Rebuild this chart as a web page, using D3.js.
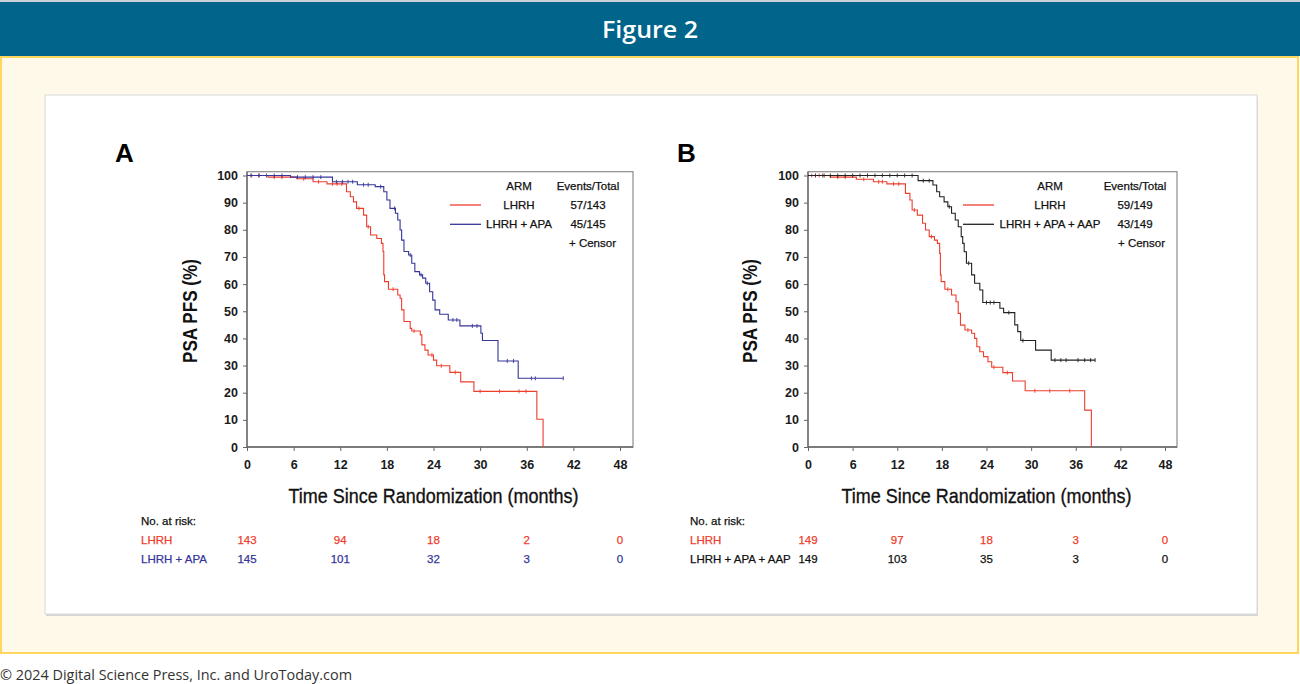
<!DOCTYPE html>
<html><head><meta charset="utf-8">
<script src="https://cdn.jsdelivr.net/npm/d3@7"></script>
<style>body{margin:0;background:#fff;} svg{display:block;}</style>
</head><body>
<svg id="c" width="1300" height="684"></svg>
<script>
// ---------- DATA ----------
const monthTicks = [0, 6, 12, 18, 24, 30, 36, 42, 48];
const pctTicks = [0, 10, 20, 30, 40, 50, 60, 70, 80, 90, 100];
const riskMonths = [0, 12, 24, 36, 48];

// Panel A - LHRH
const aLhrhTimes = [0, 2.7, 6.4, 8.5, 10.3, 12.8, 13.3, 13.7, 14.1, 15.0, 15.4, 15.9, 16.7, 17.3, 17.5, 17.6, 17.7, 18.2, 19.4, 19.7, 19.9, 20.2, 21.0, 21.2, 22.3, 22.5, 22.9, 23.3, 24.0, 24.4, 26.1, 27.5, 29.2, 37.3, 38.1];
const aLhrhSurv  = [100, 99.4, 98.8, 97.7, 96.9, 94.0, 92.2, 90.3, 87.9, 85.4, 81.1, 78.1, 76.8, 75.0, 72.0, 63.4, 60.9, 58.1, 56.0, 54.8, 50.5, 46.2, 43.7, 42.7, 41.3, 37.6, 35.7, 33.9, 32.0, 29.9, 27.5, 24.0, 20.5, 10.2, 0];
const aLhrhEnd = 38.1;
const aLhrhCensor = [0.6, 1.6, 3.5, 4.5, 7.3, 9.2, 11.0, 11.6, 12.2, 14.4, 15.6, 18.8, 21.5, 23.8, 25.0, 26.8, 30.0, 32.5, 35.0, 35.9];

// Panel A - LHRH + APA
const aApaTimes = [0, 5.6, 11.0, 14.2, 16.5, 17.6, 18.0, 18.4, 19.1, 19.4, 19.7, 19.9, 20.2, 20.8, 21.2, 21.6, 22.2, 22.6, 23.0, 23.5, 23.9, 24.2, 24.8, 25.9, 27.4, 30.1, 30.3, 32.3, 34.9];
const aApaSurv  = [100, 99.4, 97.7, 96.6, 95.9, 94.0, 91.0, 87.9, 86.1, 83.6, 79.9, 76.2, 72.0, 70.7, 67.7, 64.6, 63.4, 62.2, 60.3, 57.2, 54.1, 50.5, 48.9, 46.8, 44.6, 41.9, 39.2, 31.7, 25.3];
const aApaEnd = 40.7;
const aApaCensor = [0.5, 1.5, 2.5, 3.5, 4.5, 6.5, 7.5, 8.5, 9.5, 11.5, 12.3, 13.0, 13.6, 15.0, 15.6, 17.2, 19.0, 21.0, 22.4, 23.2, 26.5, 27.0, 29.0, 29.6, 33.5, 34.3, 36.6, 37.1, 40.7];

// Panel B - LHRH
const bLhrhTimes = [0, 3.0, 6.5, 8.8, 10.6, 13.1, 13.7, 14.0, 14.7, 15.4, 15.8, 16.3, 17.0, 17.4, 17.7, 17.8, 17.9, 18.4, 19.3, 19.9, 20.2, 20.5, 21.1, 22.0, 22.4, 22.7, 23.1, 23.6, 24.2, 24.7, 26.2, 27.5, 29.2, 37.2, 38.1];
const bLhrhSurv  = [100, 99.4, 98.6, 97.7, 96.9, 93.4, 91.0, 87.3, 85.4, 82.4, 79.9, 77.5, 76.2, 75.0, 71.3, 63.4, 60.9, 58.1, 56.0, 53.5, 49.2, 44.9, 43.1, 41.9, 40.0, 36.9, 35.1, 33.3, 31.4, 29.4, 27.4, 24.3, 20.7, 13.6, 0];
const bLhrhEnd = 38.1;
const bLhrhCensor = [0.5, 1.5, 2.2, 4.0, 5.0, 7.5, 9.5, 10.0, 11.5, 12.2, 14.3, 16.6, 18.8, 21.5, 25.0, 26.8, 30.5, 32.5, 35.2];

// Panel B - LHRH + APA + AAP
const bAapTimes = [0, 14.8, 16.8, 17.3, 17.7, 18.3, 18.8, 19.3, 19.8, 20.2, 20.6, 20.8, 21.0, 21.3, 22.0, 22.4, 23.1, 23.5, 25.8, 26.3, 27.8, 28.2, 28.6, 30.6, 32.7];
const bAapSurv  = [100, 98.1, 96.5, 94.0, 92.2, 90.3, 88.5, 86.1, 83.6, 81.1, 77.5, 75.0, 71.9, 67.7, 63.4, 60.3, 57.8, 53.2, 51.1, 49.5, 45.0, 42.5, 39.2, 35.7, 32.0];
const bAapEnd = 38.6;
const bAapCensor = [1, 2, 3, 4, 5, 6, 7, 8, 9, 10, 11, 12, 13, 14, 15.5, 16.3, 19.0, 21.6, 24.0, 24.5, 25.0, 27.0, 28.9, 33.2, 34.0, 34.7, 36.3, 37.2, 38.0, 38.6];

// At-risk tables
const aRiskLhrh = [143, 94, 18, 2, 0];
const aRiskApa  = [145, 101, 32, 3, 0];
const bRiskLhrh = [149, 97, 18, 3, 0];
const bRiskAap  = [149, 103, 35, 3, 0];

// ---------- STYLE ----------
const RED = "#ee3d2d", BLUE = "#35359a", BLACK = "#222";
const NARROW = "'Liberation Sans Narrow','Arial Narrow','Liberation Sans',Arial,sans-serif";
const SANS = "'Liberation Sans',Arial,sans-serif";

const svg = d3.select("#c");

// page chrome
svg.append("rect").attr("x",0).attr("y",0).attr("width",1300).attr("height",684).attr("fill","#fff");
svg.append("rect").attr("x",0).attr("y",0).attr("width",1300).attr("height",2).attr("fill","#c9d3d8");
svg.append("rect").attr("x",0).attr("y",2).attr("width",1300).attr("height",54).attr("fill","#01648a");
svg.append("text").attr("x",650).attr("y",38).attr("text-anchor","middle")
  .attr("fill","#fff").attr("font-family","'Open Sans',sans-serif").attr("font-weight",600)
  .attr("font-size",24).attr("textLength",96).attr("lengthAdjust","spacingAndGlyphs").text("Figure 2");
svg.append("rect").attr("x",1).attr("y",57).attr("width",1297).attr("height",596)
  .attr("fill","#fff9ea").attr("stroke","#ffd75e").attr("stroke-width",2);
svg.append("rect").attr("x",46).attr("y",97).attr("width",1212).attr("height",519).attr("fill","#d6d6d6");
svg.append("rect").attr("x",45).attr("y",95).attr("width",1212).attr("height",519)
  .attr("fill","#fff").attr("stroke","#d9d9d9").attr("stroke-width",1);
svg.append("text").attr("x",0).attr("y",680).attr("fill","#333")
  .attr("font-family","'Open Sans',sans-serif").attr("font-size",15)
  .attr("textLength",352).attr("lengthAdjust","spacingAndGlyphs")
  .text("© 2024 Digital Science Press, Inc. and UroToday.com");

function survAt(times, surv, t){
  let s = surv[0];
  for (let i=0;i<times.length;i++){ if (times[i] <= t) s = surv[i]; }
  return s;
}

function drawPanel(p){
  const g = svg.append("g");
  const x = d3.scaleLinear().domain([0,48]).range([p.x0, p.x48]);
  const y = d3.scaleLinear().domain([0,100]).range([447, 175.5]);
  const top = 171.7;

  // frame
  g.append("rect").attr("x",p.x0).attr("y",top).attr("width",p.xRight-p.x0).attr("height",447-top)
    .attr("fill","none").attr("stroke","#8c8c8c").attr("stroke-width",1.2);

  // axes
  const yAxis = d3.axisLeft(y).tickValues(pctTicks).tickSize(4).tickPadding(5);
  const gy = g.append("g").attr("transform",`translate(${p.x0},0)`).call(yAxis);
  const xAxis = d3.axisBottom(x).tickValues(monthTicks).tickSize(4).tickPadding(9);
  const gx = g.append("g").attr("transform",`translate(0,447)`).call(xAxis);
  [gy,gx].forEach(a=>{
    a.select(".domain").attr("stroke","#666").attr("stroke-width",1.3);
    a.selectAll(".tick line").attr("stroke","#666");
    a.selectAll(".tick text").attr("font-family",SANS).attr("font-size",12.5)
      .attr("font-weight","bold").attr("fill","#1a1a1a");
  });
  gx.select(".domain").attr("d",`M${p.x0},0H${p.xRight}`);
  gy.select(".domain").attr("d",`M0,447V${top}`);

  // titles
  g.append("text").attr("x",p.letterX).attr("y",162).attr("font-family",SANS)
    .attr("font-weight","bold").attr("font-size",26).attr("fill","#000").text(p.letter);
  g.append("text").attr("transform",`translate(${p.yTitleX},311) rotate(-90)`)
    .attr("text-anchor","middle").attr("font-family",NARROW).attr("font-size",20)
    .attr("font-weight","bold").attr("fill","#111").attr("textLength",104).attr("lengthAdjust","spacingAndGlyphs")
    .text("PSA PFS (%)");
  g.append("text").attr("x",(p.x0+p.x48)/2).attr("y",503)
    .attr("text-anchor","middle").attr("font-family",NARROW).attr("font-size",21)
    .attr("fill","#111").attr("stroke","#111").attr("stroke-width",0.35)
    .attr("textLength",290).attr("lengthAdjust","spacingAndGlyphs")
    .text("Time Since Randomization (months)");

  // curves
  const line = d3.line().x(d=>x(d[0])).y(d=>y(d[1])).curve(d3.curveStepAfter);
  p.series.forEach(s=>{
    const pts = s.times.map((t,i)=>[t, s.surv[i]]);
    pts.push([s.end, s.surv[s.surv.length-1]]);
    g.append("path").attr("d",line(pts)).attr("fill","none").attr("stroke",s.color).attr("stroke-width",1.1);
    g.selectAll(null).data(s.censor).enter().append("line")
      .attr("x1",d=>x(d)).attr("x2",d=>x(d))
      .attr("y1",d=>y(survAt(s.times,s.surv,d))-2).attr("y2",d=>y(survAt(s.times,s.surv,d))+2)
      .attr("stroke",s.color).attr("stroke-width",0.9);
  });

  // legend
  const L = p.legend;
  const lt = (xx,yy,txt,anchor)=>g.append("text").attr("x",xx).attr("y",yy).attr("text-anchor",anchor||"middle")
      .attr("font-family",SANS).attr("font-size",11.5).attr("fill","#111")
      .attr("stroke","#111").attr("stroke-width",0.25).text(txt);
  lt(L.armX,190,"ARM");
  lt(L.evX,190,"Events/Total");
  p.series.forEach((s,i)=>{
    const yy = 205 + i*19.3;
    g.append("line").attr("x1",L.lineX1).attr("x2",L.lineX2).attr("y1",yy).attr("y2",yy)
      .attr("stroke",s.color).attr("stroke-width",1.3);
    lt(L.armX,yy+4,s.label);
    lt(L.evX,yy+4,s.events);
  });
  lt(L.censorX,247,"+ Censor","start");

  // at-risk table
  const R = p.risk;
  g.append("text").attr("x",R.labelX).attr("y",525).attr("font-family",SANS).attr("font-size",11.5)
    .attr("fill","#111").attr("stroke","#111").attr("stroke-width",0.25).text("No. at risk:");
  p.series.forEach((s,i)=>{
    const yy = 544 + i*19.3;
    g.append("text").attr("x",R.labelX).attr("y",yy).attr("font-family",SANS).attr("font-size",11.5)
      .attr("fill",s.tableColor).attr("stroke",s.tableColor).attr("stroke-width",0.25).text(s.label);
    g.selectAll(null).data(riskMonths).enter().append("text")
      .attr("x",(d)=>x(d)).attr("y",yy).attr("text-anchor","middle")
      .attr("font-family",SANS).attr("font-size",11.5).attr("fill",s.tableColor)
      .attr("stroke",s.tableColor).attr("stroke-width",0.25)
      .text((d,j)=>s.risk[j]);
  });
}

drawPanel({
  letter:"A", letterX:115, x0:247, x48:620, xRight:633, yTitleX:197,
  legend:{armX:519, evX:588, lineX1:450, lineX2:481, censorX:569},
  risk:{labelX:141},
  series:[
    {times:aLhrhTimes, surv:aLhrhSurv, end:aLhrhEnd, censor:aLhrhCensor, color:RED, tableColor:RED, label:"LHRH", events:"57/143", risk:aRiskLhrh},
    {times:aApaTimes, surv:aApaSurv, end:aApaEnd, censor:aApaCensor, color:BLUE, tableColor:BLUE, label:"LHRH + APA", events:"45/145", risk:aRiskApa}
  ]
});
drawPanel({
  letter:"B", letterX:677, x0:808, x48:1165, xRight:1177, yTitleX:757,
  legend:{armX:1050, evX:1135, lineX1:963, lineX2:994, censorX:1118},
  risk:{labelX:690},
  series:[
    {times:bLhrhTimes, surv:bLhrhSurv, end:bLhrhEnd, censor:bLhrhCensor, color:RED, tableColor:RED, label:"LHRH", events:"59/149", risk:bRiskLhrh},
    {times:bAapTimes, surv:bAapSurv, end:bAapEnd, censor:bAapCensor, color:BLACK, tableColor:"#111", label:"LHRH + APA + AAP", events:"43/149", risk:bRiskAap}
  ]
});
</script>
</body></html>
